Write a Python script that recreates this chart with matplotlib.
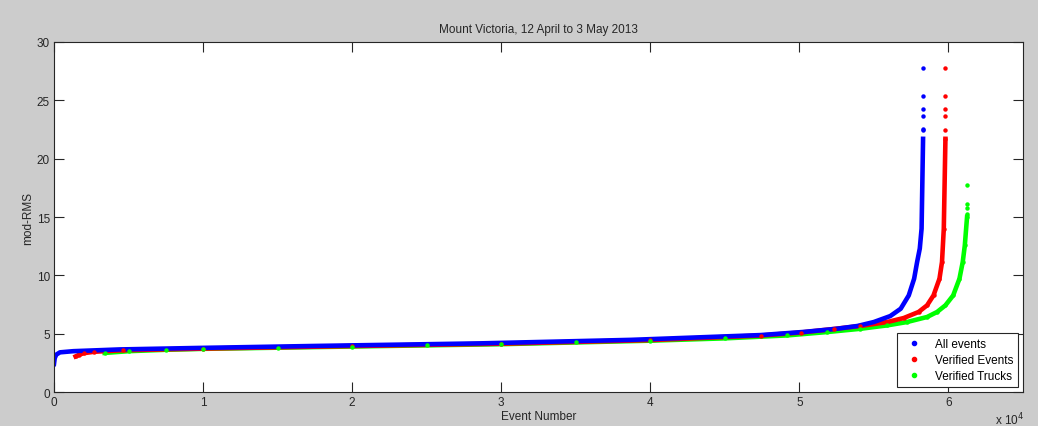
import matplotlib.pyplot as plt
from matplotlib.ticker import FixedLocator, FuncFormatter

plt.rcParams["font.family"] = ["Liberation Sans", "DejaVu Sans"]
plt.rcParams["font.size"] = 8

# sorted mod-RMS curves (event number, value)
all_x = [0, 50, 150, 400, 1300, 4400, 9800, 17600, 28600, 38700, 47400, 50300,
         52500, 53900, 55000, 56100, 56800, 57340, 57700, 57900, 58080, 58200, 58300]
all_y = [2.4, 2.9, 3.2, 3.4, 3.5, 3.65, 3.78, 3.95, 4.17, 4.47, 4.88, 5.15,
         5.42, 5.66, 6.0, 6.51, 7.14, 8.28, 9.71, 11.14, 12.3, 14.0, 21.7]
all_tail = [22.42, 22.56, 23.65, 24.22, 25.33, 27.79]
all_tail_x = 58300

ver_x = [1450, 1700, 2000, 2700, 4600, 10000, 20000, 30000, 40000, 47400, 50100,
         52300, 54100, 55900, 57000, 58000, 58570, 59000, 59400, 59570, 59690, 59800]
ver_y = [3.05, 3.2, 3.33, 3.45, 3.58, 3.72, 3.94, 4.14, 4.45, 4.84, 5.1,
         5.4, 5.66, 6.0, 6.34, 6.86, 7.43, 8.28, 9.71, 11.14, 14.0, 21.7]
ver_tail = [22.5, 23.65, 24.22, 25.33, 27.79]
ver_tail_x = 59800

trk_x = [3400, 5000, 7500, 10000, 15000, 20000, 25000, 30000, 35000, 40000, 45000,
         49170, 51860, 54100, 55890, 57230, 58570, 59240, 59800, 60320, 60740,
         60960, 61100, 61250]
trk_y = [3.35, 3.5, 3.62, 3.7, 3.8, 3.9, 4.0, 4.1, 4.25, 4.4, 4.6,
         4.85, 5.14, 5.42, 5.71, 6.0, 6.43, 6.86, 7.43, 8.28, 9.71,
         11.14, 12.56, 15.0]
trk_tail = [15.28, 15.77, 16.14, 17.77]
trk_tail_x = 61250

xticks = [0, 10000, 20000, 30000, 40000, 50000, 60000]
yticks = [0, 5, 10, 15, 20, 25, 30]

fig = plt.figure(figsize=(10.38, 4.27), dpi=100, facecolor="#cccccc")
ax = fig.add_axes([0.052, 0.0796, 0.9335, 0.8197])

blue, red, green = (0, 0, 1), (1, 0, 0), (0, 1, 0)
lw = 3.3
ax.plot(ver_x, ver_y, "-", color=red, lw=lw, zorder=2)
ax.plot(trk_x, trk_y, "-", color=green, lw=lw, zorder=1.5)
ax.plot(all_x, all_y, "-", color=blue, lw=lw, zorder=2.5)
ax.plot(ver_x, ver_y, "o", color=red, ms=3.2, mew=0, zorder=3)
ax.plot(trk_x, trk_y, "o", color=green, ms=3.2, mew=0, zorder=3)

ax.plot([all_tail_x] * len(all_tail), all_tail, "o", color=blue, ms=3.2, mew=0, zorder=3)
ax.plot([ver_tail_x] * len(ver_tail), ver_tail, "o", color=red, ms=3.2, mew=0, zorder=3)
ax.plot([trk_tail_x] * len(trk_tail), trk_tail, "o", color=green, ms=3.2, mew=0, zorder=3)

# legend proxies
h1, = ax.plot([], [], ".", color=blue, ms=6, label="All events")
h2, = ax.plot([], [], ".", color=red, ms=6, label="Verified Events")
h3, = ax.plot([], [], ".", color=green, ms=6, label="Verified Trucks")
leg = ax.legend(handles=[h1, h2, h3], loc="lower right", fancybox=False,
                framealpha=1, edgecolor="#262626", borderaxespad=0.45,
                handlelength=2.2, handletextpad=0.6, borderpad=0.4,
                labelspacing=0.35, fontsize=8.5)
leg.get_frame().set_linewidth(0.8)

ax.set_xlim(0, 65000)
ax.set_ylim(0, 30)
ax.xaxis.set_major_locator(FixedLocator(xticks))
ax.xaxis.set_major_formatter(FuncFormatter(lambda v, p: "%d" % round(v / 10000)))
ax.set_yticks(yticks)
ax.tick_params(direction="in", length=7, width=0.8, top=True, right=True,
               colors="#262626", labelsize=8.5, pad=3)
for s in ax.spines.values():
    s.set_linewidth(0.8)
    s.set_color("#262626")

ax.set_title("Mount Victoria, 12 April to 3 May 2013", fontsize=8.5, pad=7, color="#262626")
ax.set_xlabel("Event Number", fontsize=8.5, labelpad=1, color="#262626")
ax.set_ylabel("mod-RMS", fontsize=8.5, labelpad=2, color="#262626")
fig.text(0.973, 0.004, r"x 10$^4$", fontsize=8.5, color="#262626", ha="center")

fig.savefig("out.png", dpi=100, facecolor=fig.get_facecolor())
